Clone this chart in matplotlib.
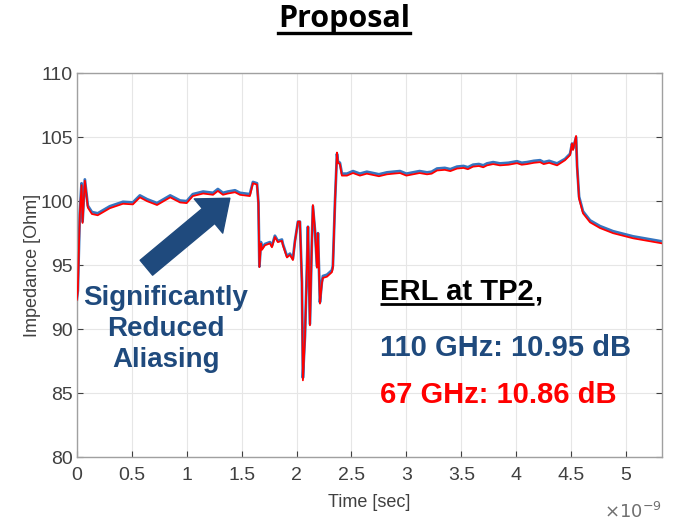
import matplotlib
matplotlib.use('Agg')
import matplotlib.pyplot as plt
import numpy as np

# time in ns (axis shows x10^-9 sec)
t_ns = [0.0, 0.009, 0.027, 0.043, 0.052, 0.073, 0.10, 0.137, 0.19, 0.30,
        0.42, 0.51, 0.574, 0.64, 0.73, 0.85, 0.94, 1.00, 1.056, 1.15,
        1.24, 1.284, 1.33, 1.375, 1.44, 1.485, 1.575, 1.603, 1.64, 1.653,
        1.662, 1.676, 1.685, 1.712, 1.758, 1.776, 1.803, 1.83, 1.867, 1.876,
        1.913, 1.94, 1.967, 1.985, 2.013, 2.031, 2.049, 2.058, 2.077, 2.095,
        2.104, 2.122, 2.14, 2.149, 2.168, 2.186, 2.195, 2.213, 2.231, 2.24,
        2.277, 2.322, 2.331, 2.35, 2.368, 2.377, 2.395, 2.413, 2.459, 2.514,
        2.577, 2.64, 2.696, 2.75, 2.823, 2.88, 2.942, 3.0, 3.06, 3.12,
        3.188, 3.23, 3.279, 3.35, 3.40, 3.461, 3.52, 3.56, 3.607, 3.66,
        3.70, 3.734, 3.79, 3.852, 3.93, 4.007, 4.05, 4.098, 4.16, 4.217,
        4.25, 4.30, 4.335, 4.372, 4.444, 4.49, 4.508, 4.517, 4.545, 4.554,
        4.572, 4.608, 4.672, 4.763, 4.882, 5.064, 5.33]

# 67 GHz (red)
z_67 = [92.3, 93.0, 99.0, 101.25, 98.3, 101.6, 99.5, 99.0, 98.9, 99.45,
        99.8, 99.75, 100.3, 100.0, 99.7, 100.3, 99.9, 99.85, 100.4, 100.6,
        100.5, 100.8, 100.5, 100.6, 100.7, 100.5, 100.4, 101.4, 101.3, 99.8,
        94.85, 96.7, 96.2, 96.55, 96.7, 96.4, 97.2, 96.8, 96.9, 96.55,
        95.6, 95.8, 95.4, 96.8, 98.4, 98.4, 93.6, 86.0, 89.4, 95.0,
        98.0, 90.3, 97.0, 99.7, 97.7, 94.8, 97.5, 92.0, 93.6, 94.0,
        94.1, 94.45, 94.8, 99.9, 103.8, 103.0, 102.9, 102.0, 102.0, 102.2,
        102.0, 102.15, 102.05, 101.95, 102.1, 102.15, 102.2, 102.0, 102.1, 102.2,
        102.1, 102.15, 102.4, 102.45, 102.35, 102.55, 102.6, 102.5, 102.7, 102.75,
        102.65, 102.8, 102.9, 102.8, 102.85, 102.97, 102.85, 102.9, 103.0, 103.05,
        102.9, 103.0, 102.9, 102.8, 103.2, 103.6, 104.5, 104.0, 105.1, 102.7,
        100.2, 99.05, 98.35, 97.9, 97.5, 97.1, 96.7]

# 110 GHz (blue)
z_110 = [92.3, 93.0, 99.1, 101.4, 98.4, 101.7, 99.65, 99.15, 99.05, 99.6,
         99.95, 99.9, 100.45, 100.15, 99.85, 100.45, 100.05, 100.0, 100.55, 100.75,
         100.65, 100.95, 100.65, 100.75, 100.85, 100.65, 100.55, 101.5, 101.4, 99.9,
         94.9, 96.8, 96.3, 96.65, 96.8, 96.5, 97.3, 96.9, 97.0, 96.65,
         95.7, 95.9, 95.5, 96.85, 98.4, 98.4, 93.7, 86.2, 89.5, 95.0,
         98.0, 90.4, 97.0, 99.6, 97.7, 94.9, 97.5, 92.1, 93.7, 94.15,
         94.25, 94.6, 94.95, 99.9, 103.7, 103.1, 103.0, 102.15, 102.15, 102.35,
         102.15, 102.3, 102.2, 102.1, 102.25, 102.3, 102.35, 102.15, 102.25, 102.35,
         102.25, 102.3, 102.55, 102.6, 102.5, 102.7, 102.75, 102.65, 102.85, 102.9,
         102.8, 102.95, 103.05, 102.95, 103.0, 103.12, 103.0, 103.05, 103.15, 103.2,
         103.05, 103.15, 103.05, 102.95, 103.3, 103.7, 104.5, 104.1, 105.0, 102.8,
         100.35, 99.2, 98.5, 98.05, 97.65, 97.25, 96.85]

x_ticks = [0, 0.5, 1, 1.5, 2, 2.5, 3, 3.5, 4, 4.5, 5]
y_ticks = [80, 85, 90, 95, 100, 105, 110]

plt.rcParams['font.family'] = ['Liberation Sans', 'DejaVu Sans']

fig = plt.figure(figsize=(6.8, 5.23), dpi=100)
ax = fig.add_axes([0.113, 0.126, 0.861, 0.734])

ax.plot(t_ns, z_110, color='#3575C0', lw=2.0, zorder=2)
ax.plot(t_ns, z_67, color='#FF0000', lw=1.3, zorder=3)

ax.set_xlim(0, 5.33)
ax.set_ylim(80, 110)
ax.set_xticks(x_ticks)
ax.set_xticklabels([('%g' % v) for v in x_ticks])
ax.set_yticks(y_ticks)
ax.grid(True, color='#e6e6e6', lw=0.8)
ax.set_axisbelow(True)
ax.tick_params(direction='in', length=4, colors='#404040', labelsize=14,
               top=False, right=True)
ax.tick_params(axis='x', pad=7)
ax.tick_params(axis='y', pad=3)
for sp in ax.spines.values():
    sp.set_color('#a0a0a0')
    sp.set_linewidth(1.0)
ax.set_xlabel('Time [sec]', fontsize=13, color='#404040', labelpad=7)
ax.set_ylabel('Impedance [Ohm]', fontsize=13, color='#404040', labelpad=-1)
ax.text(1.0, -0.159, r'$\times10^{-9}$', transform=ax.transAxes, ha='right',
        va='baseline', fontsize=13, color='#707070', family='DejaVu Sans')

# big block arrow
ax.annotate('', xy=(1.393, 100.23), xytext=(0.633, 94.8),
            arrowprops=dict(arrowstyle='simple,head_length=1.0,head_width=1.6,tail_width=0.7',
                            color='#1F4A7D', mutation_scale=20, shrinkA=0, shrinkB=0),
            zorder=4)

blue = '#1F4A7D'
ax.text(0.81, 90.0, 'Significantly\nReduced\nAliasing', ha='center', va='center',
        fontsize=20, fontweight='bold', color=blue, linespacing=1.26)

erl = ax.text(2.76, 92.27, 'ERL at TP2', ha='left', va='baseline', fontsize=21,
              fontweight='bold', color='black')
ax.text(2.76, 88.5, '110 GHz: 10.95 dB', ha='left', va='center', fontsize=21,
        fontweight='bold', color=blue)
ax.text(2.76, 84.85, '67 GHz: 10.86 dB', ha='left', va='center', fontsize=21,
        fontweight='bold', color='#FF0000')

title = fig.text(0.506, 0.963, 'Proposal', ha='center', va='center', fontsize=22,
                 fontweight='bold', color='black', family=['Open Sans', 'DejaVu Sans'])

# underlines + comma placed from measured text extents
fig.canvas.draw()
inv = ax.transData.inverted()
bb = erl.get_window_extent()
x0, _ = inv.transform((bb.x0, bb.y0))
x1, _ = inv.transform((bb.x1, bb.y0))
ax.text(x1, 92.27, ',', ha='left', va='baseline', fontsize=21,
        fontweight='bold', color='black')
ax.plot([x0, x1], [91.95, 91.95], color='black', lw=2.0, solid_capstyle='butt')

tb = title.get_window_extent().transformed(fig.transFigure.inverted())
fig.add_artist(plt.Line2D([tb.x0, tb.x1], [0.936, 0.936], color='black', lw=2.4))

fig.savefig('out.png', dpi=100)
